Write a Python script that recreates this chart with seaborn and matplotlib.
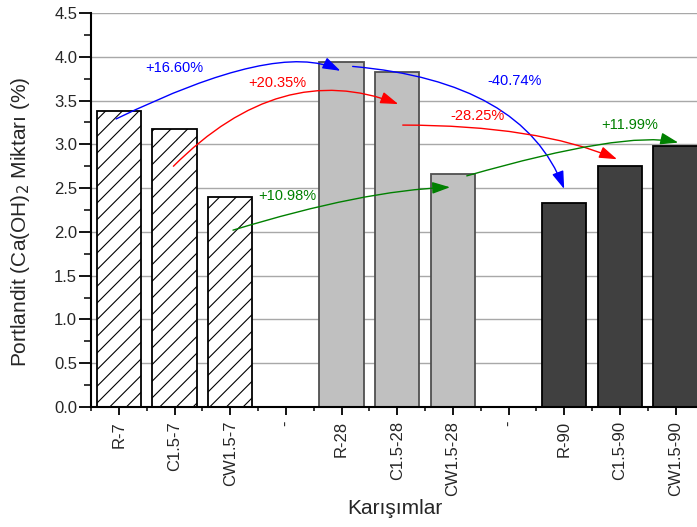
import numpy as np
import pandas as pd
import matplotlib
matplotlib.use("Agg")
import matplotlib.pyplot as plt
from matplotlib.ticker import MultipleLocator, FormatStrFormatter
import seaborn as sns

# Portlandite content per mix, grouped by curing age
mixes = ["R-7", "C1.5-7", "CW1.5-7", "R-28", "C1.5-28", "CW1.5-28", "R-90", "C1.5-90", "CW1.5-90"]
ages = ["7", "7", "7", "28", "28", "28", "90", "90", "90"]
ca_oh2 = [3.38, 3.18, 2.40, 3.94, 3.83, 2.66, 2.335, 2.75, 2.985]

# Axis slots (empty slots separate the age groups) and their labels
slots = ["R-7", "C1.5-7", "CW1.5-7", "gap-a", "R-28", "C1.5-28", "CW1.5-28", "gap-b", "R-90", "C1.5-90", "CW1.5-90"]
slot_labels = ["R-7", "C1.5-7", "CW1.5-7", "-", "R-28", "C1.5-28", "CW1.5-28", "-", "R-90", "C1.5-90", "CW1.5-90"]

# Change annotations: (from mix, to mix, label, colour)
change_from = ["R-7", "C1.5-7", "CW1.5-7", "R-28", "C1.5-28", "CW1.5-28"]
change_to = ["R-28", "C1.5-28", "CW1.5-28", "R-90", "C1.5-90", "CW1.5-90"]
change_text = ["+16.60%", "+20.35%", "+10.98%", "-40.74%", "-28.25%", "+11.99%"]
change_color = ["#0000FF", "#FF0000", "#008000", "#0000FF", "#FF0000", "#008000"]

df = pd.DataFrame({"mix": mixes, "age": ages, "value": ca_oh2})

sns.set_theme(style="white")
plt.rcParams["font.family"] = ["Liberation Sans", "DejaVu Sans"]
plt.rcParams["hatch.linewidth"] = 0.8

fig = plt.figure(figsize=(6.97, 5.27), dpi=100)
ax = fig.add_axes([0.1306, 0.2277, 0.8705, 0.7476])

face = {"7": "#FFFFFF", "28": "#C0C0C0", "90": "#404040"}
edge = {"7": "#000000", "28": "#505050", "90": "#000000"}

sns.barplot(data=df, x="mix", y="value", order=slots, hue="age",
            hue_order=["7", "28", "90"], palette=face, dodge=False,
            width=0.8, legend=False, ax=ax, zorder=2)

for container, age in zip(ax.containers, ["7", "28", "90"]):
    for patch in container:
        patch.set_edgecolor(edge[age])
        patch.set_linewidth(1.3)
        if age == "7":
            patch.set_hatch("//")

ax.set_xlim(-0.5, 10.4)
ax.set_ylim(0, 4.5)

ax.yaxis.set_major_locator(MultipleLocator(0.5))
ax.yaxis.set_minor_locator(MultipleLocator(0.25))
ax.yaxis.set_major_formatter(FormatStrFormatter("%.1f"))
ax.set_xticks(range(len(slots)))
ax.set_xticklabels(slot_labels, rotation=90)
ax.xaxis.set_minor_locator(MultipleLocator(1.0, offset=0.5))

ax.grid(axis="y", which="major", color="#A8A8A8", linewidth=1.0, zorder=0)
ax.set_axisbelow(True)

for side in ["top", "right"]:
    ax.spines[side].set_visible(False)
for side in ["left", "bottom"]:
    ax.spines[side].set_color("black")
    ax.spines[side].set_linewidth(1.5)

ax.tick_params(axis="y", which="major", direction="out", length=8.5, width=1.3,
               color="black", labelsize=12, left=True, pad=1.5)
ax.tick_params(axis="y", which="minor", direction="out", length=5, width=1.1,
               color="black", left=True)
ax.tick_params(axis="x", which="major", direction="out", length=6, width=1.3,
               color="black", labelsize=12, bottom=True, pad=4)
ax.tick_params(axis="x", which="minor", direction="out", length=3, width=1.1,
               color="black", bottom=True)

ax.set_xlabel("Karışımlar", fontsize=15, labelpad=2)
ax.set_ylabel("Portlandit (Ca(OH)$_2$ Miktarı (%)", fontsize=15)
ax.yaxis.set_label_coords(-0.097, 0.47)

pos = {name: slots.index(name) for name in slots}

# arrow endpoints relative to bar centre, start/end tangent angles and label anchor
arrow_geom = [
    # (dx0, y0, dx1, y1, angleA, angleB, text_x, text_y)
    (-0.05, 3.29, -0.02, 3.84, 26, -26, 0.99, 3.87),
    (-0.02, 2.75, 0.02, 3.46, 45, -21, 2.85, 3.70),
    (0.05, 2.02, -0.05, 2.51, 17, 2, 3.03, 2.41),
    (0.20, 3.89, 0.0, 2.49, -5, -69, 7.11, 3.72),
    (0.10, 3.22, -0.05, 2.83, 0, -23, 6.45, 3.32),
    (0.25, 2.64, 0.05, 3.02, 16, -13, 9.18, 3.22),
]

for (f, t, label, color), (dx0, y0, dx1, y1, a_start, a_end, tx, ty) in zip(
        zip(change_from, change_to, change_text, change_color), arrow_geom):
    x0 = pos[f] + dx0
    x1 = pos[t] + dx1
    ax.annotate("", xy=(x1, y1), xytext=(x0, y0),
                arrowprops=dict(arrowstyle="-|>,head_length=0.9,head_width=0.3",
                                connectionstyle=f"angle3,angleA={a_start},angleB={a_end}",
                                color=color, lw=1.0, shrinkA=0, shrinkB=0,
                                mutation_scale=12),
                zorder=5)
    ax.text(tx, ty, label, color=color, fontsize=10.5, ha="center", va="center", zorder=6)

fig.savefig("out.png", dpi=100)
